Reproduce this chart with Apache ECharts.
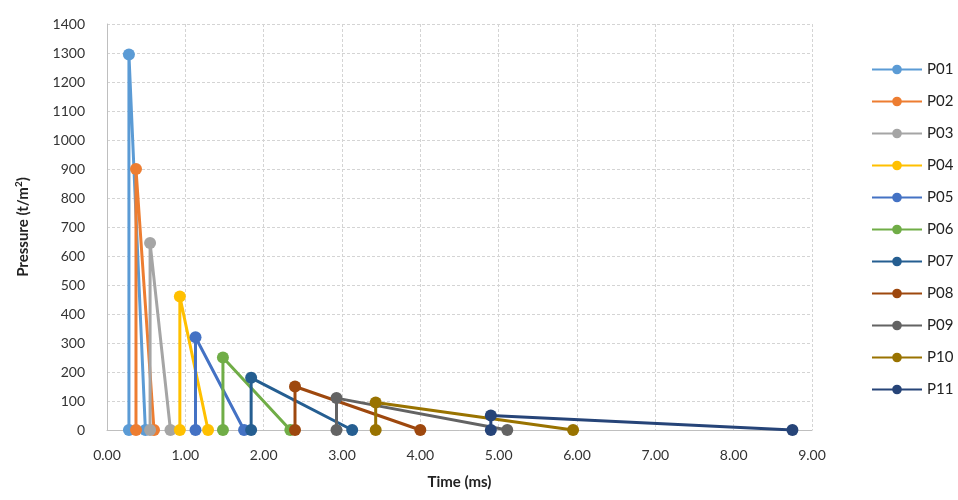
<!DOCTYPE html>
<html>
<head>
<meta charset="utf-8">
<script src="https://cdn.jsdelivr.net/npm/echarts@6/dist/echarts.min.js"></script>
<style>html,body{margin:0;padding:0;background:#fff}#c{width:958px;height:500px}</style>
</head>
<body>
<div id="c"></div>
<script>
// Each pulse: start time, peak pressure, end time
const names = ['P01','P02','P03','P04','P05','P06','P07','P08','P09','P10','P11'];
const startTimes = [0.28, 0.37, 0.55, 0.93, 1.13, 1.48, 1.84, 2.40, 2.93, 3.43, 4.90];
const peakPressures = [1295, 900, 645, 460, 320, 250, 180, 150, 110, 95, 50];
const endTimes = [0.49, 0.60, 0.81, 1.29, 1.75, 2.34, 3.13, 4.00, 5.11, 5.95, 8.75];
const colors = ['#5B9BD5','#ED7D31','#A5A5A5','#FFC000','#4472C4','#70AD47','#255E91','#9E480E','#636363','#997300','#264478'];
const xTicks = [0,1,2,3,4,5,6,7,8,9];
const yTicks = [0,100,200,300,400,500,600,700,800,900,1000,1100,1200,1300,1400];

const font = 'Lato, "Open Sans", sans-serif';
const series = names.map((n, i) => ({
  name: n,
  type: 'line',
  data: [[startTimes[i], 0], [startTimes[i], peakPressures[i]], [endTimes[i], 0]],
  symbol: 'circle',
  symbolSize: 12,
  lineStyle: { width: 3, color: colors[i] },
  itemStyle: { color: colors[i] },
  animation: false
}));

const chart = echarts.init(document.getElementById('c'));
chart.setOption({
  color: colors,
  animation: false,
  grid: { left: 107, right: 146, top: 24, bottom: 70 },
  legend: {
    orient: 'vertical',
    left: 866,
    top: 57,
    itemWidth: 50,
    itemHeight: 12,
    itemGap: 17,
    textStyle: { fontFamily: font, fontSize: 15, color: '#222' },
    data: names
  },
  xAxis: {
    type: 'value',
    min: xTicks[0],
    max: xTicks[xTicks.length - 1],
    interval: 1,
    name: 'Time (ms)',
    nameLocation: 'middle',
    nameGap: 45,
    nameTextStyle: { fontFamily: font, fontSize: 15, fontWeight: 'bold', color: '#222' },
    axisLine: { show: true, lineStyle: { color: '#bfbfbf', width: 1 } },
    axisTick: { show: false },
    axisLabel: { fontFamily: font, fontSize: 14, color: '#333', margin: 18, formatter: v => v.toFixed(2) },
    splitLine: { show: true, lineStyle: { color: '#d4d4d4', type: [3, 2], width: 1 } }
  },
  yAxis: {
    type: 'value',
    min: yTicks[0],
    max: yTicks[yTicks.length - 1],
    interval: 100,
    name: 'Pressure (t/m{sup|2})',
    nameLocation: 'middle',
    nameGap: 75,
    nameTextStyle: {
      fontFamily: font, fontSize: 15, fontWeight: 'bold', color: '#222',
      rich: { sup: { fontFamily: font, fontSize: 10, fontWeight: 'bold', color: '#222', verticalAlign: 'top', padding: [0, 0, 8, 0] } }
    },
    axisLine: { show: true, lineStyle: { color: '#bfbfbf', width: 1 } },
    axisTick: { show: false },
    axisLabel: { fontFamily: font, fontSize: 14, color: '#333', margin: 22, formatter: v => String(v) },
    splitLine: { show: true, lineStyle: { color: '#d4d4d4', type: [3, 2], width: 1 } }
  },
  series: series
});
</script>
</body>
</html>
